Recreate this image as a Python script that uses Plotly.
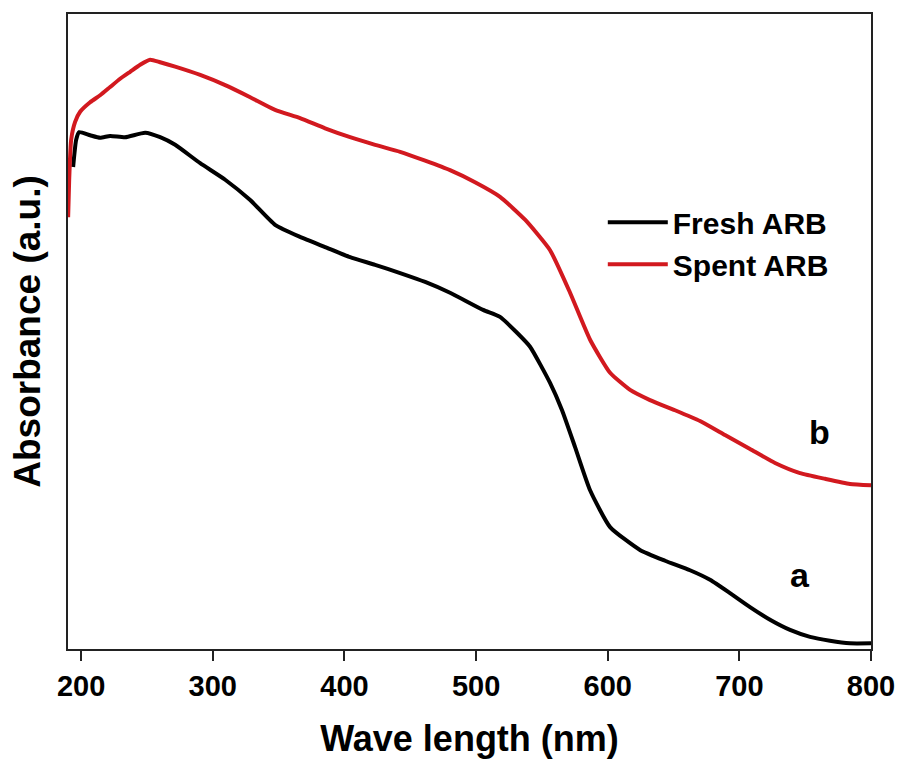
import plotly.graph_objects as go

# Wavelength (nm) and absorbance (a.u.)
fresh_wl = [193.9, 196.2, 198.5, 206.8, 214.4, 222.0, 233.4, 248.6, 260.0, 271.4,
            290.4, 309.4, 328.4, 347.3, 366.3, 385.3, 404.3, 423.3, 442.3, 461.3,
            480.2, 505.3, 518.2, 531.1, 541.0, 556.2, 565.3, 575.2, 586.6, 601.8,
            624.5, 643.5, 662.5, 677.7, 692.9, 708.1, 723.3, 738.5, 753.7, 768.8,
            784.0, 800.0]
fresh_abs = [0.759, 0.802, 0.814, 0.809, 0.805, 0.808, 0.806, 0.813, 0.806, 0.794,
             0.765, 0.739, 0.707, 0.668, 0.649, 0.633, 0.617, 0.605, 0.592, 0.578,
             0.561, 0.534, 0.523, 0.498, 0.476, 0.419, 0.376, 0.318, 0.250, 0.192,
             0.156, 0.139, 0.124, 0.109, 0.088, 0.066, 0.046, 0.030, 0.019, 0.013,
             0.009, 0.009]

spent_wl = [190.1, 190.9, 192.4, 195.4, 199.2, 206.8, 214.4, 222.0, 229.6, 237.2,
            244.8, 252.4, 260.0, 271.4, 290.4, 309.4, 328.4, 347.3, 366.3, 385.3,
            404.3, 423.3, 442.3, 461.3, 480.2, 499.2, 518.2, 537.2, 556.2, 571.4,
            586.6, 601.8, 617.0, 632.1, 651.1, 670.1, 689.1, 708.1, 727.1, 746.1,
            765.1, 784.0, 800.0]
spent_abs = [0.680, 0.739, 0.802, 0.830, 0.846, 0.861, 0.872, 0.885, 0.898, 0.909,
             0.920, 0.928, 0.924, 0.917, 0.904, 0.888, 0.869, 0.849, 0.836, 0.820,
             0.806, 0.794, 0.783, 0.769, 0.754, 0.735, 0.712, 0.676, 0.628, 0.561,
             0.487, 0.435, 0.408, 0.392, 0.376, 0.359, 0.337, 0.315, 0.293, 0.277,
             0.268, 0.260, 0.258]

x_ticks = [200, 300, 400, 500, 600, 700, 800]
series_names = ["Fresh ARB", "Spent ARB"]
curve_labels = ["a", "b"]
label_pos_x = [746, 761]
label_pos_y = [0.117, 0.342]

FONT = "Liberation Sans, Arial, sans-serif"
RED = "#D2191F"

fig = go.Figure()
fig.add_trace(go.Scatter(x=fresh_wl, y=fresh_abs, mode="lines", name=series_names[0],
                         line=dict(color="black", width=4, shape="spline", smoothing=0.5)))
fig.add_trace(go.Scatter(x=spent_wl, y=spent_abs, mode="lines", name=series_names[1],
                         line=dict(color=RED, width=4, shape="spline", smoothing=0.5)))

for lab, lx, ly in zip(curve_labels, label_pos_x, label_pos_y):
    fig.add_annotation(x=lx, y=ly, text=lab, showarrow=False, xref="x", yref="y",
                       font=dict(family=FONT, size=34, color="black", weight="bold"))

fig.update_layout(
    width=897, height=763,
    margin=dict(l=68, r=26, t=14, b=114, autoexpand=False),
    paper_bgcolor="white", plot_bgcolor="white",
    font=dict(family=FONT, color="black", weight="bold"),
    showlegend=True,
    legend=dict(x=0.666, y=0.713, xanchor="left", yanchor="top",
                bgcolor="rgba(0,0,0,0)", font=dict(family=FONT, size=30, weight="bold"),
                tracegroupgap=0, itemwidth=60),
    xaxis=dict(range=[190, 800], tickvals=x_ticks, ticks="outside", ticklen=10,
               tickwidth=2, tickcolor="#222", showline=True, linewidth=2,
               linecolor="#222", mirror=True, showgrid=False, zeroline=False,
               automargin=False,
               tickfont=dict(family=FONT, size=29, weight="bold"),
               title=dict(text="Wave length (nm)", standoff=25,
                          font=dict(family=FONT, size=36, weight="bold"))),
    yaxis=dict(range=[0, 1], showticklabels=False, ticks="", showline=True,
               linewidth=2, linecolor="#222", mirror=True, showgrid=False,
               zeroline=False, automargin=False,
               title=dict(text="Absorbance (a.u.)", standoff=14,
                          font=dict(family=FONT, size=37, weight="bold"))),
)

fig.write_html("out.html")
